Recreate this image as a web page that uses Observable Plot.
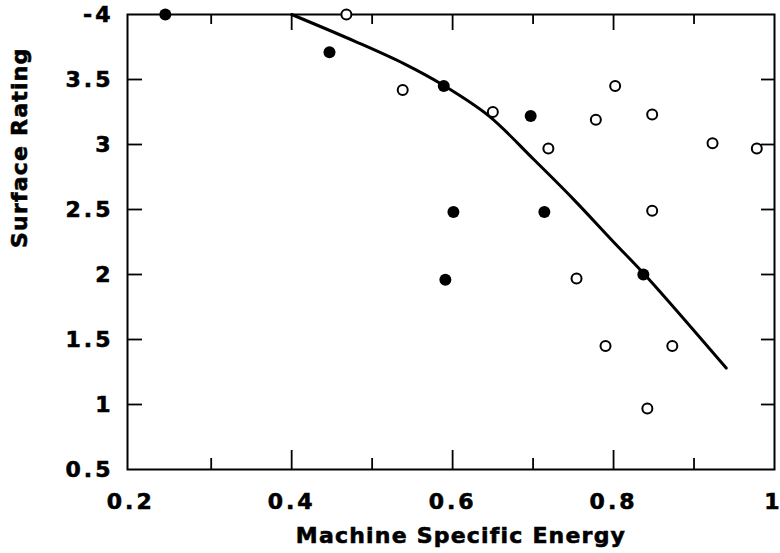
<!DOCTYPE html>
<html><head><meta charset="utf-8">
<script src="https://cdn.jsdelivr.net/npm/d3@7"></script>
<script src="https://cdn.jsdelivr.net/npm/@observablehq/plot@0.6"></script>
<style>body{margin:0;background:#fff} svg{display:block}</style>
</head><body><div id="chart"></div><script>
// Filled circles
const filledX = [0.243, 0.447, 0.589, 0.697, 0.601, 0.591, 0.714, 0.837];
const filledY = [4.0, 3.71, 3.45, 3.22, 2.48, 1.96, 2.48, 2.0];
// Open circles
const openX = [0.468, 0.538, 0.650, 0.719, 0.778, 0.802, 0.848, 0.923, 0.978, 0.848, 0.754, 0.790, 0.873, 0.842];
const openY = [4.0, 3.42, 3.25, 2.97, 3.19, 3.45, 3.23, 3.01, 2.97, 2.49, 1.97, 1.45, 1.45, 0.97];
// Fitted curve
const curveX = [0.40, 0.48, 0.54, 0.59, 0.645, 0.70, 0.75, 0.80, 0.84, 0.94];
const curveY = [4.0, 3.79, 3.62, 3.45, 3.22, 2.89, 2.58, 2.25, 1.99, 1.28];
// Ticks
const xTickValues = [0.2, 0.4, 0.6, 0.8, 1.0];
const xTickLabels = ["0.2", "0.4", "0.6", "0.8", "1"];
const xMajorMarks = [0.4, 0.6, 0.8];
const xMinorMarks = [0.3, 0.5, 0.7, 0.9];
const yTickValues = [4, 3.5, 3, 2.5, 2, 1.5, 1, 0.5];
const yTickLabels = ["-4", "3.5", "3", "2.5", "2", "1.5", "1", "0.5"];
const yTickMarks = [1, 1.5, 2, 2.5, 3, 3.5];
const xTitle = "Machine Specific Energy";
const yTitle = "Surface Rating";

const filled = filledX.map((x, i) => ({x, y: filledY[i]}));
const open = openX.map((x, i) => ({x, y: openY[i]}));
const curve = curveX.map((x, i) => ({x, y: curveY[i]}));

const chart = Plot.plot({
  width: 780, height: 553,
  marginLeft: 127, marginRight: 6, marginTop: 14, marginBottom: 84,
  style: {fontFamily: "DejaVu Sans", fontWeight: "bold", fontSize: "22px", color: "#000", background: "#fff", overflow: "visible"},
  x: {domain: [0.196, 1]},
  y: {domain: [0.5, 4]},
  marks: [
    Plot.axisX({anchor: "bottom", ticks: xMajorMarks, tickSize: -19, fill: "none", label: null, strokeWidth: 1.8}),
    Plot.axisX({anchor: "bottom", ticks: xMinorMarks, tickSize: -11, fill: "none", label: null, strokeWidth: 1.8}),
    Plot.axisX({anchor: "top", ticks: xMajorMarks, tickSize: -15, fill: "none", label: null, strokeWidth: 1.8}),
    Plot.axisX({anchor: "top", ticks: xMinorMarks, tickSize: -9, fill: "none", label: null, strokeWidth: 1.8}),
    Plot.axisY({anchor: "left", ticks: yTickMarks, tickSize: -15, fill: "none", label: null, strokeWidth: 1.8}),
    Plot.axisY({anchor: "right", ticks: yTickMarks, tickSize: -14, fill: "none", label: null, strokeWidth: 1.8}),
    Plot.axisX({anchor: "bottom", ticks: xTickValues, tickSize: 0, tickPadding: 24, label: null,
      tickFormat: (d) => xTickLabels[xTickValues.indexOf(d)]}),
    Plot.axisY({anchor: "left", ticks: yTickValues, tickSize: 0, tickPadding: 14, label: null,
      tickFormat: (d) => yTickLabels[yTickValues.indexOf(d)]}),
    Plot.frame({stroke: "black", strokeWidth: 2}),
    Plot.line(curve, {x: "x", y: "y", stroke: "black", strokeWidth: 3, curve: "catmull-rom"}),
    Plot.dot(open, {x: "x", y: "y", r: 5, stroke: "black", strokeWidth: 2, fill: "white"}),
    Plot.dot(filled, {x: "x", y: "y", r: 6, fill: "black", stroke: "none"}),
    Plot.text([xTitle], {frameAnchor: "bottom", dy: 73, dx: 10, lineAnchor: "bottom", text: d => d, fontSize: 22, fontWeight: "bold"}),
    Plot.text([yTitle], {frameAnchor: "left", dx: -101, dy: 6, rotate: -90, lineAnchor: "bottom", text: d => d, fontSize: 22, fontWeight: "bold"})
  ]
});
document.getElementById("chart").appendChild(chart);
const sel = d3.select(chart);
sel.selectAll("g[aria-label='x-axis tick label'] text, g[aria-label='y-axis tick label'] text")
  .attr("letter-spacing", 3).attr("stroke", "black").attr("stroke-width", 0.6);
sel.selectAll("g[aria-label='text'] text")
  .attr("letter-spacing", 1.2).attr("stroke", "black").attr("stroke-width", 0.6);
// keep the last x tick label inside the picture
sel.selectAll("g[aria-label='x-axis tick label'] text")
  .filter(function() { return this.textContent === "1"; })
  .attr("text-anchor", "end").attr("letter-spacing", 0).attr("dx", 5);
</script></body></html>
